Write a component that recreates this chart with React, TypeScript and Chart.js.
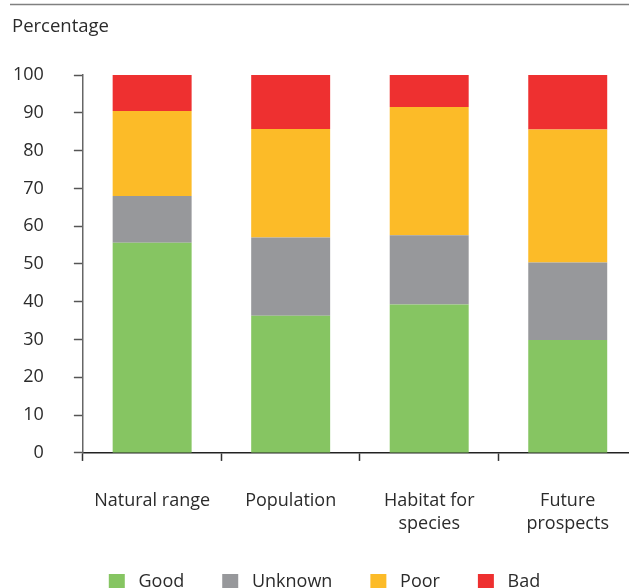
import React, { useEffect, useRef } from "react";
import { Chart, registerables } from "chart.js";

Chart.register(...registerables);

const categories: string[][] = [
  ["Natural range"],
  ["Population"],
  ["Habitat for", "species"],
  ["Future", "prospects"],
];
const good = [55.6, 36.3, 39.3, 29.9];
const unknown = [12.4, 20.7, 18.3, 20.5];
const poor = [22.5, 28.7, 33.9, 35.2];
const bad = [9.5, 14.3, 8.5, 14.4];
const seriesNames = ["Good", "Unknown", "Poor", "Bad"];
const yTitle = "Percentage";

const COLORS = ["#86c562", "#97989b", "#fcbb28", "#ee3030"];
const FONT = "'Open Sans', 'Noto Sans', sans-serif";
const TEXT = "#2b2b2b";

const W = 637;
const H = 601;
const X_TICK_PAD = 28;
const Y_TICK_PAD = 30;

const topRule = {
  id: "topRule",
  beforeDraw(chart: any) {
    const ctx = chart.ctx;
    ctx.save();
    ctx.strokeStyle = "#808080";
    ctx.lineWidth = 1.5;
    ctx.beginPath();
    ctx.moveTo(10, 4.5);
    ctx.lineTo(W, 4.5);
    ctx.stroke();
    ctx.restore();
  },
};

const clearPad = (scale: any) => {
  scale.paddingLeft = 0;
  scale.paddingRight = 0;
  scale.paddingTop = 0;
  scale.paddingBottom = 0;
};

export default function App() {
  const ref = useRef<HTMLCanvasElement | null>(null);
  useEffect(() => {
    if (!ref.current) return;
    const values = [good, unknown, poor, bad];
    const chart = new Chart(ref.current, {
      type: "bar",
      data: {
        labels: categories,
        datasets: seriesNames.map((name, i) => ({
          label: name,
          data: values[i],
          backgroundColor: COLORS[i],
          borderWidth: 0,
          categoryPercentage: 1,
          barPercentage: 0.57,
        })),
      },
      plugins: [topRule],
      options: {
        responsive: false,
        animation: false,
        devicePixelRatio: 1,
        layout: { padding: { left: 12, right: 0, top: 0, bottom: 0 } },
        plugins: {
          tooltip: { enabled: false },
          title: {
            display: true,
            text: yTitle,
            align: "start",
            color: TEXT,
            font: { family: FONT, size: 18.5, weight: "normal", lineHeight: 1.2 },
            padding: { top: 16, bottom: 36.8 },
          },
          legend: {
            position: "bottom",
            labels: {
              color: TEXT,
              font: { family: FONT, size: 18 },
              boxWidth: 16,
              boxHeight: 16,
              padding: 38,
              generateLabels: (chart: any) =>
                chart.data.datasets.map((ds: any, i: number) => ({
                  text: " " + ds.label,
                  fillStyle: ds.backgroundColor,
                  strokeStyle: ds.backgroundColor,
                  lineWidth: 0,
                  fontColor: TEXT,
                  hidden: false,
                  datasetIndex: i,
                })),
            },
          },
        },
        scales: {
          x: {
            stacked: true,
            offset: true,
            afterFit: (scale: any) => {
              clearPad(scale);
              scale.height -= X_TICK_PAD;
            },
            grid: {
              offset: true,
              drawOnChartArea: false,
              drawTicks: true,
              tickLength: 8,
              tickColor: "#333",
              tickWidth: 1.5,
            },
            border: { color: "#222", width: 1.5 },
            ticks: {
              color: TEXT,
              font: { family: FONT, size: 18, lineHeight: 1.28 },
              padding: X_TICK_PAD,
              autoSkip: false,
              maxRotation: 0,
            },
          },
          y: {
            stacked: true,
            min: 0,
            max: 100,
            afterFit: (scale: any) => {
              clearPad(scale);
              scale.width -= Y_TICK_PAD - 1;
            },
            grid: {
              drawOnChartArea: false,
              drawTicks: true,
              tickLength: 9,
              tickColor: "#555",
              tickWidth: 1.5,
            },
            border: { color: "#666", width: 1.5 },
            ticks: {
              stepSize: 10,
              color: TEXT,
              font: { family: FONT, size: 18 },
              padding: Y_TICK_PAD,
            },
          },
        },
      },
    } as any);
    return () => chart.destroy();
  }, []);
  return (
    <div
      style={{
        position: "fixed",
        left: 0,
        top: 0,
        width: 629,
        height: 588,
        overflow: "hidden",
        background: "#fff",
      }}
    >
      <canvas ref={ref} width={W} height={H} style={{ width: W, height: H, display: "block" }} />
    </div>
  );
}
